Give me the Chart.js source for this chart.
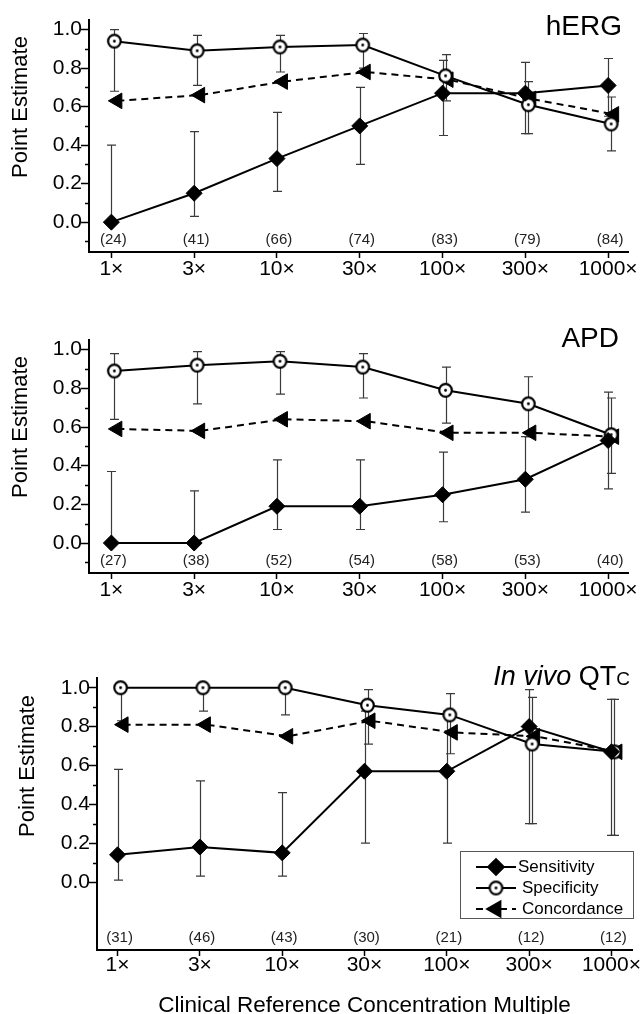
<!DOCTYPE html>
<html>
<head>
<meta charset="utf-8">
<script src="https://cdn.jsdelivr.net/npm/chart.js@4.4.0/dist/chart.umd.min.js"></script>
<style>
  body { margin: 0; background: #fff; }
  .panel { position: absolute; left: 0; }
</style>
</head>
<body>
<canvas id="herg" class="panel" style="top:0" width="642" height="300"></canvas>
<canvas id="apd" class="panel" style="top:300px" width="642" height="310"></canvas>
<canvas id="qtc" class="panel" style="top:610px" width="642" height="404"></canvas>
<script>
// x categories and y tick labels
const categories = ["1×", "3×", "10×", "30×", "100×", "300×", "1000×"];
const majorTicks = [0.0, 0.2, 0.4, 0.6, 0.8, 1.0];

// hERG
const hergN = [24, 41, 66, 74, 83, 79, 84];
const hergSens = [0.00, 0.15, 0.33, 0.50, 0.67, 0.67, 0.71];
const hergSensLo = [0.00, 0.03, 0.16, 0.30, 0.45, 0.46, 0.55];
const hergSensHi = [0.40, 0.47, 0.57, 0.70, 0.84, 0.83, 0.85];
const hergSpec = [0.94, 0.89, 0.91, 0.92, 0.76, 0.61, 0.51];
const hergSpecLo = [0.68, 0.71, 0.78, 0.80, 0.63, 0.46, 0.37];
const hergSpecHi = [1.00, 0.97, 0.97, 0.98, 0.87, 0.73, 0.65];
const hergConc = [0.63, 0.66, 0.73, 0.78, 0.74, 0.64, 0.56];

// APD
const apdN = [27, 38, 52, 54, 58, 53, 40];
const apdSens = [0.00, 0.00, 0.19, 0.19, 0.25, 0.33, 0.53];
const apdSensLo = [0.00, 0.00, 0.07, 0.07, 0.11, 0.16, 0.28];
const apdSensHi = [0.37, 0.27, 0.43, 0.43, 0.47, 0.55, 0.78];
const apdSpec = [0.89, 0.92, 0.94, 0.91, 0.79, 0.72, 0.56];
const apdSpecLo = [0.64, 0.72, 0.77, 0.75, 0.62, 0.55, 0.36];
const apdSpecHi = [0.98, 0.99, 0.99, 0.98, 0.91, 0.86, 0.75];
const apdConc = [0.59, 0.58, 0.64, 0.63, 0.57, 0.57, 0.55];

// In vivo QTc
const qtcN = [31, 46, 43, 30, 21, 12, 12];
const qtcSens = [0.14, 0.18, 0.15, 0.57, 0.57, 0.80, 0.67];
const qtcSensLo = [0.01, 0.03, 0.03, 0.20, 0.20, 0.30, 0.24];
const qtcSensHi = [0.58, 0.52, 0.46, 0.88, 0.88, 0.99, 0.94];
const qtcSpec = [1.00, 1.00, 1.00, 0.91, 0.86, 0.71, 0.67];
const qtcSpecLo = [0.83, 0.88, 0.86, 0.71, 0.66, 0.30, 0.24];
const qtcSpecHi = [1.00, 1.00, 1.00, 0.99, 0.97, 0.95, 0.94];
const qtcConc = [0.81, 0.81, 0.75, 0.83, 0.77, 0.75, 0.67];

const FONT = '"Liberation Sans", Arial, sans-serif';
Chart.defaults.font.family = FONT;
Chart.defaults.color = '#000';

// open circle with a dot in the middle
function ringDot() {
  let c = document.createElement('canvas');
  c.width = 17; c.height = 17;
  let g = c.getContext('2d');
  g.beginPath(); g.arc(8.5, 8.5, 6.3, 0, Math.PI * 2);
  g.fillStyle = '#fff'; g.fill();
  g.lineWidth = 2.2; g.strokeStyle = '#000'; g.stroke();
  g.beginPath(); g.arc(8.5, 8.5, 1.4, 0, Math.PI * 2);
  g.fillStyle = '#000'; g.fill();
  return c;
}
const ring = ringDot();

function pts(vals) {
  return vals.map((v, i) => ({ x: i, y: v }));
}

const extras = {
  id: 'extras',
  afterDatasetsUpdate(chart) {
    chart.data.datasets.forEach((ds, di) => {
      let dx = ds.dx || 0;
      chart.getDatasetMeta(di).data.forEach(p => { p.x += dx; });
    });
  },
  beforeDatasetsDraw(chart) {
    const ctx = chart.ctx;
    const y = chart.scales.y;
    ctx.save();
    ctx.strokeStyle = '#3a3a3a';
    ctx.lineWidth = 1.2;
    chart.data.datasets.forEach((ds, di) => {
      if (!ds.lo) return;
      chart.getDatasetMeta(di).data.forEach((p, i) => {
        let x = Math.round(p.x) + 0.5;
        let y1 = y.getPixelForValue(ds.lo[i]);
        let y2 = y.getPixelForValue(ds.hi[i]);
        ctx.beginPath();
        ctx.moveTo(x, y1); ctx.lineTo(x, y2);
        ctx.moveTo(x - 4.5, y1); ctx.lineTo(x + 4.5, y1);
        ctx.moveTo(x - 4.5, y2); ctx.lineTo(x + 4.5, y2);
        ctx.stroke();
      });
    });
    ctx.restore();
  },
  afterDraw(chart, args, opt) {
    const ctx = chart.ctx;
    const area = chart.chartArea;
    const xs = chart.scales.x, ys = chart.scales.y;
    ctx.save();
    // minor ticks
    ctx.strokeStyle = '#000';
    ctx.lineWidth = 1.5;
    opt.minor.forEach(v => {
      let py = Math.round(ys.getPixelForValue(v)) + 0.5;
      ctx.beginPath();
      ctx.moveTo(area.left - 4, py); ctx.lineTo(area.left, py);
      ctx.stroke();
    });
    // sample counts
    ctx.fillStyle = '#222';
    ctx.font = '15px ' + FONT;
    ctx.textAlign = 'center';
    ctx.textBaseline = 'middle';
    opt.counts.forEach((n, i) => {
      ctx.fillText('(' + n + ')', xs.getPixelForValue(i) + 2, area.bottom - 12);
    });
    // y title
    ctx.fillStyle = '#000';
    ctx.font = '22px ' + FONT;
    ctx.save();
    ctx.translate(opt.ytitle[0], opt.ytitle[1]);
    ctx.rotate(-Math.PI / 2);
    ctx.fillText('Point Estimate', 0, 0);
    ctx.restore();
    // panel title, right aligned
    ctx.textBaseline = 'alphabetic';
    ctx.textAlign = 'left';
    let parts = opt.title;
    let total = 0;
    parts.forEach(t => { ctx.font = t[1] + FONT; total += ctx.measureText(t[0]).width; });
    let tx = opt.titlePos[0] - total;
    parts.forEach(t => {
      ctx.font = t[1] + FONT;
      ctx.fillText(t[0], tx, opt.titlePos[1]);
      tx += ctx.measureText(t[0]).width;
    });
    // x title
    if (opt.xtitle) {
      ctx.font = '22.5px ' + FONT;
      ctx.textAlign = 'center';
      ctx.textBaseline = 'middle';
      ctx.fillText(opt.xtitle, (area.left + area.right) / 2, opt.xtitleY);
    }
    // legend box
    if (opt.legend) {
      let b = opt.legend;
      ctx.strokeStyle = '#555';
      ctx.lineWidth = 1;
      ctx.strokeRect(b[0] + 0.5, b[1] + 0.5, b[2], b[3]);
      ctx.font = '17px ' + FONT;
      ctx.textAlign = 'left';
      ctx.textBaseline = 'middle';
      chart.data.datasets.forEach((ds, di) => {
        let ly = b[1] + 16 + di * 21;
        let lx = b[0] + 16;
        ctx.strokeStyle = '#000';
        ctx.lineWidth = 1.8;
        ctx.setLineDash(ds.borderDash || []);
        ctx.beginPath();
        ctx.moveTo(lx, ly); ctx.lineTo(lx + 40, ly);
        ctx.stroke();
        ctx.setLineDash([]);
        ctx.fillStyle = '#000';
        Chart.helpers.drawPoint(ctx, {
          pointStyle: ds.pointStyle, radius: ds.pointRadius,
          rotation: ds.pointRotation || 0, borderWidth: 1
        }, lx + 20, ly);
        ctx.fillStyle = '#000';
        ctx.fillText(ds.label, lx + 42 + (di ? 4 : 0), ly);
      });
    }
    ctx.restore();
  }
};

function panel(id, d, p) {
  let context = document.getElementById(id).getContext('2d');
  new Chart(context, {
    type: 'line',
    data: {
      datasets: [{
        label: 'Sensitivity',
        data: pts(d.sens), lo: d.sensLo, hi: d.sensHi,
        borderColor: '#000', borderWidth: 2,
        pointStyle: 'rectRot', pointRadius: 8,
        pointBackgroundColor: '#000', pointBorderColor: '#000', pointBorderWidth: 1
      }, {
        label: 'Specificity',
        data: pts(d.spec), lo: d.specLo, hi: d.specHi, dx: 3,
        borderColor: '#000', borderWidth: 2,
        pointStyle: ring, pointRadius: 7
      }, {
        label: 'Concordance',
        data: pts(d.conc), dx: 6,
        borderColor: '#000', borderWidth: 2, borderDash: [7, 5],
        pointStyle: 'triangle', pointRotation: -90, pointRadius: 9,
        pointBackgroundColor: '#000', pointBorderColor: '#000', pointBorderWidth: 1
      }]
    },
    options: {
      responsive: false,
      animation: false,
      events: [],
      layout: { padding: { top: p.top, right: p.right, left: 0, bottom: 0 } },
      plugins: {
        legend: { display: false },
        tooltip: { enabled: false },
        extras: p.extras
      },
      scales: {
        x: {
          type: 'linear', min: p.xmin, max: p.xmax,
          afterBuildTicks: s => { s.ticks = categories.map((c, i) => ({ value: i })); },
          afterFit: s => { s.height = p.xh; s.paddingLeft = 0; s.paddingRight = 0; },
          ticks: {
            autoSkip: false, maxRotation: 0, padding: p.xpad, color: '#000',
            font: { size: 21, lineHeight: 1 },
            callback: v => categories[v]
          },
          grid: { drawOnChartArea: false, tickLength: 6, tickColor: '#000', tickWidth: 1.5 },
          border: { color: '#000', width: 2 }
        },
        y: {
          min: p.ymin, max: 1.05,
          afterBuildTicks: s => { s.ticks = majorTicks.map(v => ({ value: v })); },
          afterFit: s => { s.width = p.left; s.paddingTop = 0; s.paddingBottom = 0; },
          ticks: {
            padding: -1, color: '#000',
            font: { size: 21, lineHeight: 1 },
            callback: v => v.toFixed(1)
          },
          grid: { drawOnChartArea: false, tickLength: 8, tickColor: '#000', tickWidth: 1.5 },
          border: { color: '#000', width: 2 }
        }
      }
    },
    plugins: [extras]
  });
}

window.addEventListener('load', function () {
  panel('herg', {
    sens: hergSens, sensLo: hergSensLo, sensHi: hergSensHi,
    spec: hergSpec, specLo: hergSpecLo, specHi: hergSpecHi, conc: hergConc
  }, {
    top: 20, right: 14, left: 89, xh: 48, xpad: 1,
    xmin: -0.27, xmax: 6.24, ymin: -0.155,
    extras: {
      minor: [-0.1, 0.1, 0.3, 0.5, 0.7, 0.9], counts: hergN,
      ytitle: [21, 107], title: [['hERG', '28px ']], titlePos: [622, 35]
    }
  });

  panel('apd', {
    sens: apdSens, sensLo: apdSensLo, sensHi: apdSensHi,
    spec: apdSpec, specLo: apdSpecLo, specHi: apdSpecHi, conc: apdConc
  }, {
    top: 40, right: 14, left: 89, xh: 37, xpad: 1,
    xmin: -0.27, xmax: 6.24, ymin: -0.155,
    extras: {
      minor: [-0.1, 0.1, 0.3, 0.5, 0.7, 0.9], counts: apdN,
      ytitle: [21, 127], title: [['APD', '28px ']], titlePos: [619, 47]
    }
  });

  panel('qtc', {
    sens: qtcSens, sensLo: qtcSensLo, sensHi: qtcSensHi,
    spec: qtcSpec, specLo: qtcSpecLo, specHi: qtcSpecHi, conc: qtcConc
  }, {
    top: 68, right: 6, left: 97, xh: 64, xpad: -1,
    xmin: -0.25, xmax: 6.25, ymin: -0.35,
    extras: {
      minor: [0.1, 0.3, 0.5, 0.7, 0.9], counts: qtcN,
      ytitle: [28, 156],
      title: [['In vivo ', 'italic 27px '], ['QT', '27px '], ['C', '19px ']], titlePos: [630, 75],
      xtitle: 'Clinical Reference Concentration Multiple', xtitleY: 396,
      legend: [460, 241, 173, 67]
    }
  });
});
</script>
</body>
</html>
